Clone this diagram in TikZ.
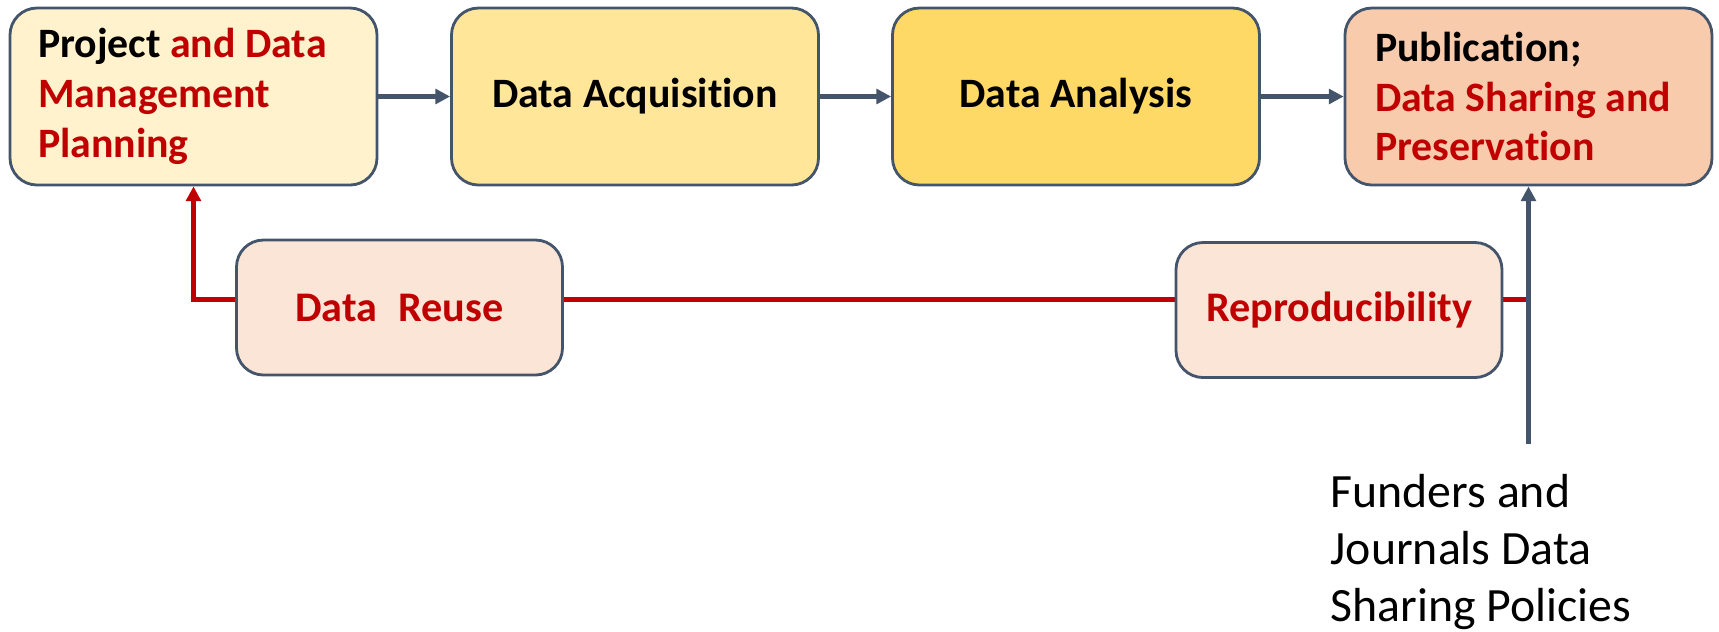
\documentclass[tikz,border=0pt]{standalone}
\usepackage{fontspec}
\setmainfont{Carlito}[Ligatures=NoCommon]
\usepackage{tikz}
\usetikzlibrary{arrows.meta, positioning, calc, backgrounds}
\usepackage{xcolor}
\definecolor{StageLight}{HTML}{FFF2CC}
\definecolor{StageMid}{HTML}{FFE699}
\definecolor{StageDeep}{HTML}{FFD966}
\definecolor{StageOrange}{HTML}{F8CBAD}
\definecolor{LoopFill}{HTML}{FBE5D6}
\definecolor{SlateBlue}{HTML}{44546A}
\definecolor{DarkRed}{HTML}{C00000}
\tikzset{
    stagebox/.style={
        draw=SlateBlue,
        line width=0.8pt,
        fill=#1,
        rounded corners=0.27cm,
        minimum width=3.67cm,
        minimum height=1.77cm,
        text=black,
        font=\fontsize{11.9}{14.2}\selectfont\bfseries,
        align=center,
        inner sep=0pt
    },
    stagebox/.default=StageMid,
    loopbox/.style={
        draw=SlateBlue,
        line width=0.8pt,
        fill=LoopFill,
        rounded corners=0.27cm,
        minimum width=3.26cm,
        minimum height=1.35cm,
        text=DarkRed,
        font=\fontsize{12}{14.2}\selectfont\bfseries,
        align=center
    },
    arrow/.style={
        -{Triangle[length=4.2pt, width=4.2pt]},
        line width=1.2pt,
        SlateBlue
    },
    redarrow/.style={
        -{Triangle[length=4.2pt, width=4.2pt]},
        line width=1.3pt,
        DarkRed
    }
}
\begin{document}
\begin{tikzpicture}
    \useasboundingbox (0,0) rectangle (17.19,-6.31);

    % research stages
    \node[stagebox=StageLight, text width=3.11cm, align=flush left] (plan) at (1.935,-0.965)
        {Project \textcolor{DarkRed}{and Data}\\\textcolor{DarkRed}{Management}\\\textcolor{DarkRed}{Planning}};
    \node[stagebox=StageMid] (acq) at (6.35,-0.965) {Data Acquisition};
    \node[stagebox=StageDeep] (ana) at (10.76,-0.965) {Data Analysis};
    \node[stagebox=StageOrange, text width=3.07cm, align=flush left] (pub) at (15.285,-0.965)
        {Publication;\\\textcolor{DarkRed}{Data Sharing and}\\\textcolor{DarkRed}{Preservation}};

    \draw[arrow] (plan) -- (acq);
    \draw[arrow] (acq) -- (ana);
    \draw[arrow] (ana) -- (pub);

    % feedback loop
    \node[loopbox] (reuse) at (3.995,-3.075) {Data\hspace{0.5em}Reuse};
    \node[loopbox] (repro) at (13.39,-3.10) {Reproducibility};

    \coordinate (loopend) at ($(pub.south)+(0,-1.13)$);
    \begin{scope}[on background layer]
        \draw[redarrow] (loopend) -| (plan.south);
    \end{scope}

    % outside requirements
    \coordinate (policy) at ($(pub.south)+(0,-2.58)$);
    \draw[arrow] (policy) -- (pub.south);
    \node[anchor=north west, inner sep=0pt, align=left,
          font=\fontsize{13.6}{16.2}\selectfont] (funders) at (13.30,-4.74)
        {Funders and\\Journals Data\\Sharing Policies};
\end{tikzpicture}
\end{document}
